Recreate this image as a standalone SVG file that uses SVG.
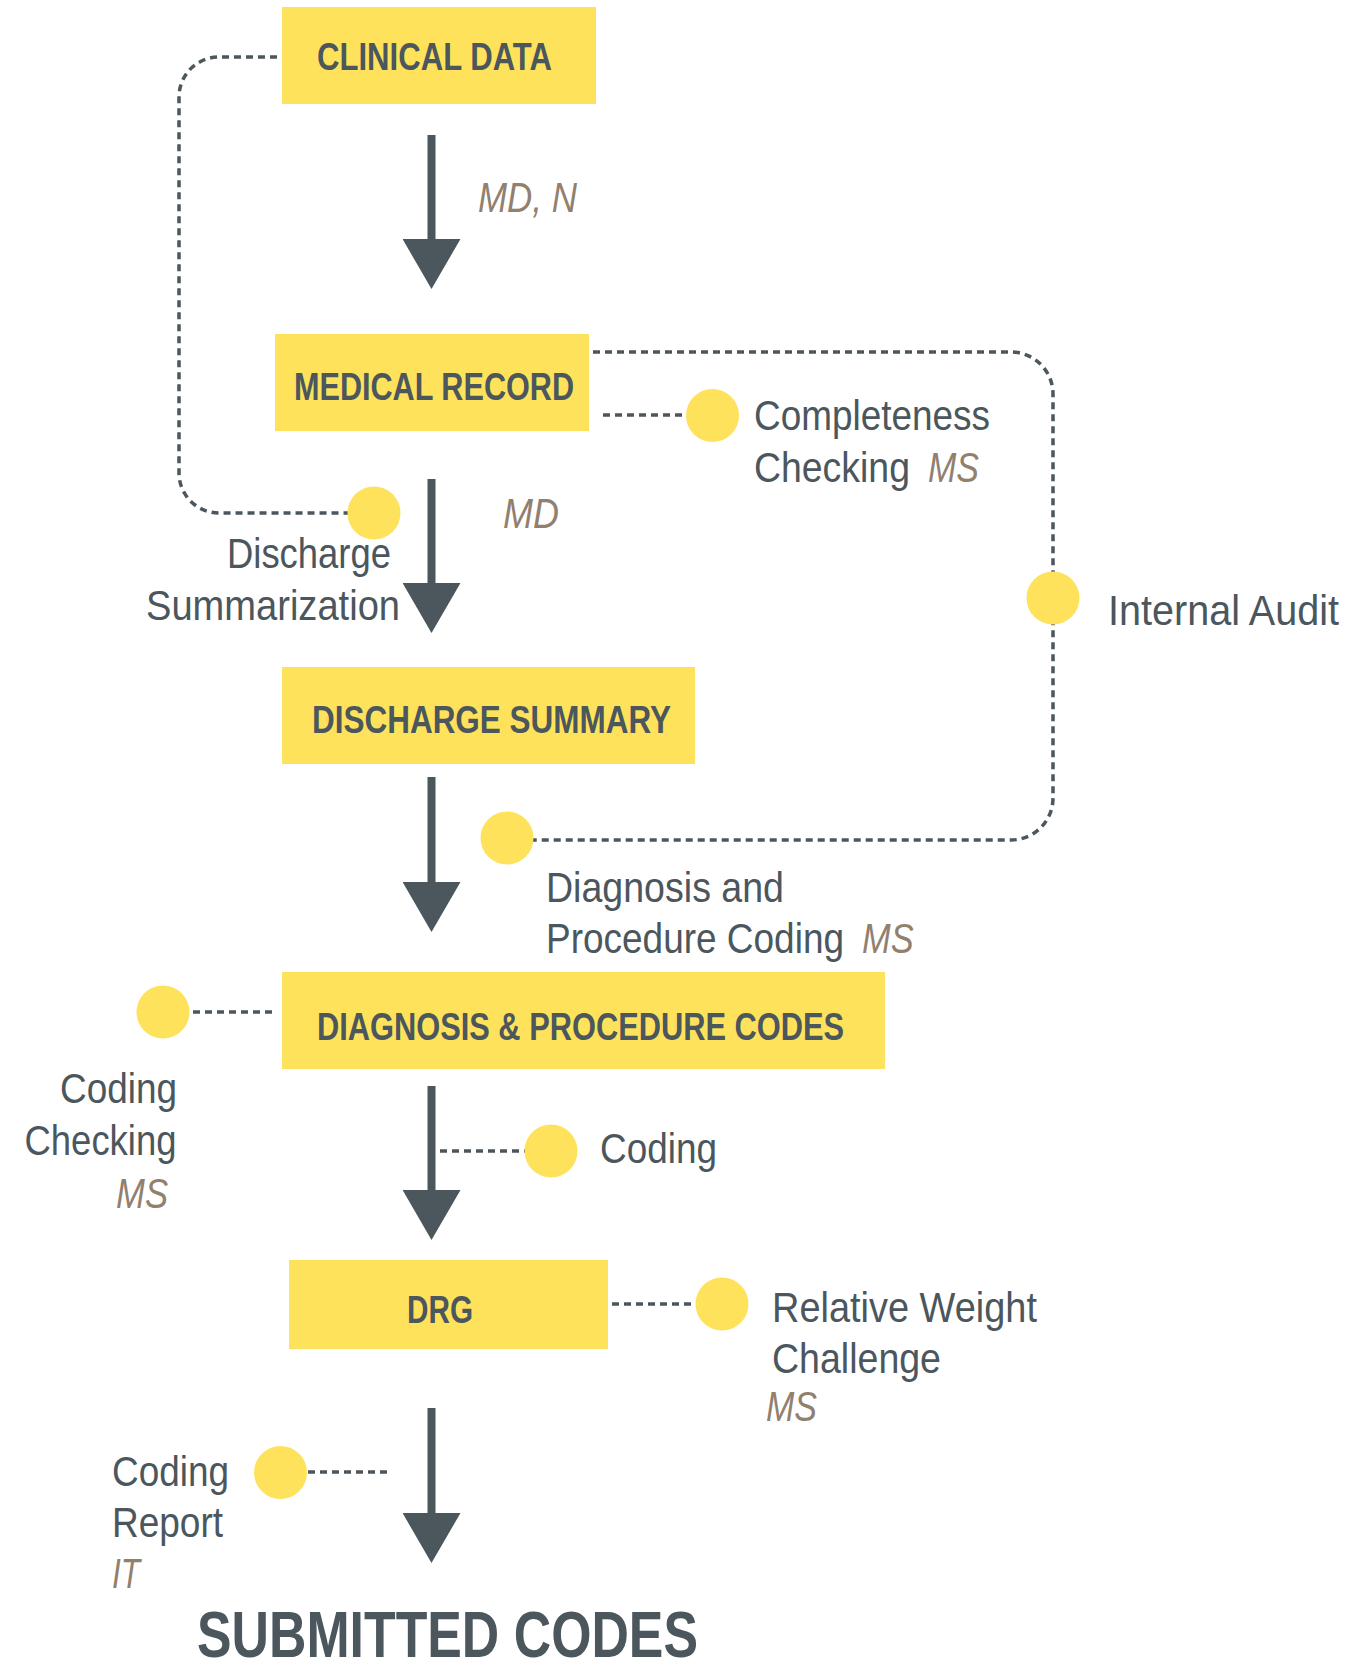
<svg xmlns="http://www.w3.org/2000/svg" width="1358" height="1672" viewBox="0 0 1358 1672">
<style>
.box{fill:#FFE25B}
.bt{font-family:"Liberation Sans",Arial,sans-serif;font-weight:bold;font-size:38px;fill:#4B565D}
.big{font-size:64px}
.lt{font-family:"Liberation Sans",Arial,sans-serif;font-size:43px;fill:#4B565D}
.it{font-family:"Liberation Sans",Arial,sans-serif;font-style:italic;font-size:43px;fill:#92806F}
.dot{fill:#FFE25B}
.dash{fill:none;stroke:#4B565D;stroke-width:3.5;stroke-dasharray:7 5}
.shaft{fill:none;stroke:#4B565D;stroke-width:8;marker-end:url(#head)}
</style>
<defs>
<marker id="head" markerUnits="userSpaceOnUse" viewBox="0 0 50 58" markerWidth="50" markerHeight="58" refX="5" refY="29" orient="auto">
<path d="M0,0 L50,29 L0,58 Z" fill="#4B565D"/>
</marker>
</defs>
<rect width="1358" height="1672" fill="#FFFFFF"/>

<g id="connectors">
<path class="shaft" d="M431.5,135 V244"/>
<path class="shaft" d="M431.5,479 V588"/>
<path class="shaft" d="M431.5,777 V887"/>
<path class="shaft" d="M431.5,1086 V1195"/>
<path class="shaft" d="M431.5,1408 V1518"/>
<path class="dash" d="M277,57 H219 A40,40 0 0 0 179,97 V473 A40,40 0 0 0 219,513 H348"/>
<path class="dash" d="M593,352 H1011 A42,42 0 0 1 1053,394 V798 A42,42 0 0 1 1011,840 H533"/>
<path class="dash" d="M603,415 H686"/>
<path class="dash" d="M272,1012 H190"/>
<path class="dash" d="M440,1151 H525"/>
<path class="dash" d="M612,1304 H696"/>
<path class="dash" d="M308,1472 H390"/>
</g>

<g id="clinical-data">
<rect class="box" x="282" y="7" width="314" height="97"/>
<text class="bt" x="317" y="70" textLength="235" lengthAdjust="spacingAndGlyphs">CLINICAL DATA</text>
</g>
<g id="label-md-n">
<text class="it" x="478" y="212" textLength="99" lengthAdjust="spacingAndGlyphs">MD, N</text>
</g>

<g id="medical-record">
<rect class="box" x="275" y="334" width="314" height="97"/>
<text class="bt" x="294" y="400" textLength="280" lengthAdjust="spacingAndGlyphs">MEDICAL RECORD</text>
</g>

<g id="completeness-checking">
<circle class="dot" cx="712.5" cy="415.5" r="26.5"/>
<text class="lt" x="754" y="430" textLength="236" lengthAdjust="spacingAndGlyphs">Completeness</text>
<text class="lt" transform="translate(754,482) scale(0.87,1)">Checking</text>
<text class="it" transform="translate(928,482) scale(0.79,1)">MS</text>
</g>

<g id="discharge-summarization">
<circle class="dot" cx="374" cy="513" r="26.5"/>
<text class="lt" x="227" y="568" textLength="164" lengthAdjust="spacingAndGlyphs">Discharge</text>
<text class="lt" x="146" y="620" textLength="254" lengthAdjust="spacingAndGlyphs">Summarization</text>
</g>
<g id="label-md">
<text class="it" x="503" y="528" textLength="56" lengthAdjust="spacingAndGlyphs">MD</text>
</g>

<g id="internal-audit">
<circle class="dot" cx="1053" cy="598" r="26.5"/>
<text class="lt" x="1108" y="625" textLength="231" lengthAdjust="spacingAndGlyphs">Internal Audit</text>
</g>

<g id="discharge-summary">
<rect class="box" x="282" y="667" width="413" height="97"/>
<text class="bt" x="312" y="733" textLength="359" lengthAdjust="spacingAndGlyphs">DISCHARGE SUMMARY</text>
</g>

<g id="diagnosis-procedure-coding">
<circle class="dot" cx="507" cy="838" r="26.5"/>
<text class="lt" x="546" y="902" textLength="238" lengthAdjust="spacingAndGlyphs">Diagnosis and</text>
<text class="lt" transform="translate(546,953) scale(0.86,1)">Procedure Coding</text>
<text class="it" transform="translate(862,953) scale(0.8,1)">MS</text>
</g>

<g id="diagnosis-procedure-codes">
<rect class="box" x="282" y="972" width="603" height="97"/>
<text class="bt" x="317" y="1040" textLength="527" lengthAdjust="spacingAndGlyphs">DIAGNOSIS &amp; PROCEDURE CODES</text>
</g>

<g id="coding-checking">
<circle class="dot" cx="163" cy="1012" r="26.5"/>
<text class="lt" x="60" y="1103" textLength="117" lengthAdjust="spacingAndGlyphs">Coding</text>
<text class="lt" x="24.5" y="1155" textLength="152" lengthAdjust="spacingAndGlyphs">Checking</text>
<text class="it" x="116" y="1208" textLength="52" lengthAdjust="spacingAndGlyphs">MS</text>
</g>

<g id="coding">
<circle class="dot" cx="551" cy="1151" r="26.5"/>
<text class="lt" x="600" y="1163" textLength="117" lengthAdjust="spacingAndGlyphs">Coding</text>
</g>

<g id="drg">
<rect class="box" x="289" y="1260" width="319" height="89"/>
<text class="bt" x="407" y="1323" textLength="66" lengthAdjust="spacingAndGlyphs">DRG</text>
</g>

<g id="relative-weight-challenge">
<circle class="dot" cx="722" cy="1304" r="26.5"/>
<text class="lt" x="772" y="1322" textLength="265" lengthAdjust="spacingAndGlyphs">Relative Weight</text>
<text class="lt" x="772" y="1373" textLength="169" lengthAdjust="spacingAndGlyphs">Challenge</text>
<text class="it" x="766" y="1421" textLength="51" lengthAdjust="spacingAndGlyphs">MS</text>
</g>

<g id="coding-report">
<circle class="dot" cx="280.5" cy="1472.5" r="26.5"/>
<text class="lt" x="112" y="1486" textLength="117" lengthAdjust="spacingAndGlyphs">Coding</text>
<text class="lt" x="112" y="1537" textLength="111" lengthAdjust="spacingAndGlyphs">Report</text>
<text class="it" x="112" y="1588" textLength="28" lengthAdjust="spacingAndGlyphs">IT</text>
</g>

<g id="submitted-codes">
<text class="bt big" x="197" y="1657" textLength="501" lengthAdjust="spacingAndGlyphs">SUBMITTED CODES</text>
</g>
</svg>
